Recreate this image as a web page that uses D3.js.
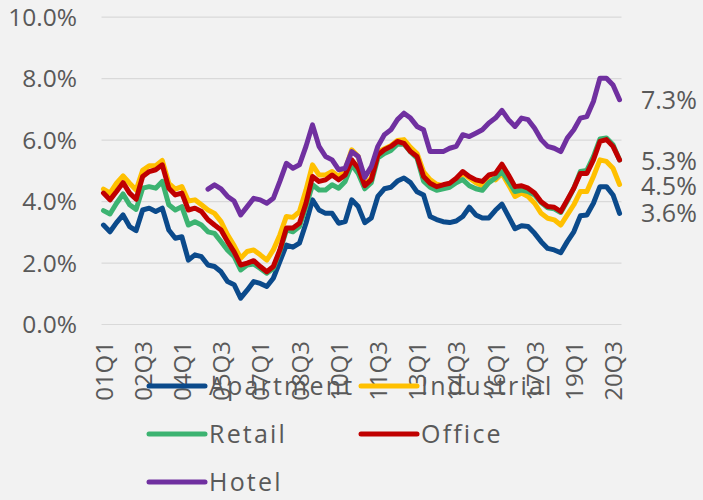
<!DOCTYPE html>
<html>
<head>
<meta charset="utf-8">
<script src="https://cdn.jsdelivr.net/npm/d3@7"></script>
<style>
  html, body { margin: 0; padding: 0; background: #f2f2f2; }
  svg { display: block; }
  text { font-family: "Open Sans", sans-serif; fill: #595959; }
</style>
</head>
<body>
<svg id="chart" width="703" height="500"></svg>
<script>
// ---------- DATA ----------
const categories = [
  "01Q1","01Q2","01Q3","01Q4","02Q1","02Q2","02Q3","02Q4","03Q1","03Q2","03Q3","03Q4",
  "04Q1","04Q2","04Q3","04Q4","05Q1","05Q2","05Q3","05Q4","06Q1","06Q2","06Q3","06Q4",
  "07Q1","07Q2","07Q3","07Q4","08Q1","08Q2","08Q3","08Q4","09Q1","09Q2","09Q3","09Q4",
  "10Q1","10Q2","10Q3","10Q4","11Q1","11Q2","11Q3","11Q4","12Q1","12Q2","12Q3","12Q4",
  "13Q1","13Q2","13Q3","13Q4","14Q1","14Q2","14Q3","14Q4","15Q1","15Q2","15Q3","15Q4",
  "16Q1","16Q2","16Q3","16Q4","17Q1","17Q2","17Q3","17Q4","18Q1","18Q2","18Q3","18Q4",
  "19Q1","19Q2","19Q3","19Q4","20Q1","20Q2","20Q3","20Q4"
];
const tickLabels = ["01Q1","02Q3","04Q1","05Q3","07Q1","08Q3","10Q1","11Q3","13Q1","14Q3","16Q1","17Q3","19Q1","20Q3"];
const yTicks = [0, 2, 4, 6, 8, 10];

const apartment = [
  3.22,3.0,3.3,3.55,3.17,3.04,3.71,3.77,3.66,3.77,3.06,2.79,
  2.84,2.08,2.25,2.19,1.92,1.87,1.7,1.38,1.28,0.84,1.1,1.38,
  1.32,1.22,1.49,2.03,2.57,2.5,2.63,3.28,4.04,3.71,3.6,3.6,
  3.28,3.33,4.04,3.82,3.3,3.45,4.15,4.4,4.45,4.65,4.75,4.6,
  4.3,4.2,3.5,3.4,3.33,3.3,3.35,3.5,3.8,3.55,3.45,3.45,
  3.7,3.9,3.5,3.1,3.2,3.17,2.95,2.68,2.46,2.41,2.32,2.68,
  3.0,3.52,3.55,3.93,4.47,4.47,4.2,3.6
];
const industrial = [
  4.39,4.26,4.58,4.82,4.58,4.36,5.0,5.15,5.15,5.32,4.58,4.39,
  4.47,4.0,4.04,3.88,3.71,3.6,3.33,2.9,2.55,2.14,2.36,2.41,
  2.25,2.08,2.41,2.9,3.5,3.47,3.66,4.36,5.18,4.85,4.85,4.96,
  4.8,5.02,5.67,5.45,4.55,4.75,5.6,5.7,5.8,5.97,6.0,5.75,
  5.55,4.95,4.7,4.55,4.5,4.55,4.7,4.9,4.75,4.6,4.5,4.75,
  4.69,4.9,4.53,4.15,4.26,4.15,3.93,3.6,3.44,3.39,3.22,3.55,
  3.88,4.31,4.31,4.8,5.34,5.29,5.07,4.54
];
const retail = [
  3.69,3.58,3.93,4.23,3.88,3.73,4.42,4.47,4.42,4.64,3.88,3.71,
  3.82,3.22,3.33,3.22,3.0,2.95,2.68,2.4,2.2,1.76,1.92,1.95,
  1.81,1.65,1.81,2.36,3.06,3.0,3.17,3.82,4.53,4.36,4.36,4.53,
  4.42,4.64,5.18,4.9,4.4,4.6,5.4,5.55,5.65,5.85,5.85,5.6,
  5.4,4.65,4.45,4.35,4.4,4.45,4.6,4.7,4.5,4.4,4.35,4.6,
  4.75,4.96,4.64,4.31,4.36,4.31,4.2,3.95,3.78,3.75,3.63,4.0,
  4.42,4.96,5.0,5.45,6.02,6.05,5.83,5.34
];
const office = [
  4.26,4.04,4.31,4.6,4.26,4.06,4.8,4.96,5.02,5.18,4.42,4.2,
  4.26,3.71,3.77,3.66,3.39,3.22,3.06,2.68,2.35,1.92,1.98,2.06,
  1.87,1.7,1.87,2.41,3.12,3.12,3.28,3.93,4.8,4.64,4.69,4.85,
  4.69,4.85,5.34,5.07,4.5,4.7,5.5,5.67,5.78,5.94,5.88,5.61,
  5.45,4.8,4.58,4.47,4.53,4.58,4.74,4.96,4.8,4.69,4.64,4.85,
  4.9,5.2,4.85,4.47,4.5,4.42,4.26,3.98,3.82,3.8,3.66,4.04,
  4.42,4.9,4.9,5.34,5.94,6.0,5.78,5.34
];
const hotel = [
  null,null,null,null,null,null,null,null,null,null,null,null,
  null,null,null,null,4.39,4.53,4.4,4.15,4.0,3.55,3.82,4.09,
  4.04,3.93,4.09,4.64,5.23,5.07,5.18,5.78,6.48,5.78,5.45,5.34,
  5.02,5.07,5.61,5.45,4.77,5.12,5.78,6.16,6.32,6.65,6.86,6.7,
  6.43,6.32,5.61,5.61,5.61,5.72,5.78,6.16,6.1,6.21,6.32,6.54,
  6.7,6.95,6.65,6.43,6.7,6.65,6.37,6.0,5.78,5.72,5.61,6.05,
  6.32,6.7,6.75,7.24,8.0,8.0,7.78,7.3
];

const seriesNames = ["Apartment", "Industrial", "Retail", "Office", "Hotel"];
const seriesColors = ["#0b4a8b", "#ffc000", "#3cb371", "#c00000", "#7030a0"];
const seriesValues = [apartment, industrial, retail, office, hotel];
const endLabels = [7.3, 5.3, 4.5, 3.6];

// ---------- CHART ----------
const svg = d3.select("#chart");
const plotLeft = 101.5, plotRight = 621.5, plotTop = 16.7, plotBottom = 324;

const x = d3.scalePoint().domain(categories).range([plotLeft, plotRight]).padding(0.3);
const y = d3.scaleLinear().domain([0, 10]).range([plotBottom, plotTop]);

// gridlines
svg.append("g")
  .attr("transform", `translate(${plotLeft},0)`)
  .call(d3.axisLeft(y).tickValues(yTicks).tickSize(-(plotRight - plotLeft)).tickFormat(""))
  .call(g => g.select(".domain").remove())
  .call(g => g.selectAll("line").attr("stroke", "#d9d9d9").attr("stroke-width", 1.2));

// y axis labels
svg.append("g")
  .attr("transform", `translate(77,0)`)
  .call(d3.axisLeft(y).tickValues(yTicks).tickSize(0).tickPadding(0).tickFormat(d => d.toFixed(1) + "%"))
  .call(g => g.select(".domain").remove())
  .call(g => g.selectAll("text").attr("dy", "0.36em").style("font-size", "24.5px").style("fill", "#595959"));

// x axis labels
svg.append("g")
  .attr("transform", `translate(0,${plotBottom})`)
  .call(d3.axisBottom(x).tickValues(tickLabels).tickSize(0))
  .call(g => g.select(".domain").remove())
  .call(g => g.selectAll("text")
    .attr("transform", "rotate(-90)")
    .attr("x", -17).attr("y", 0).attr("dy", "0.36em")
    .attr("text-anchor", "end")
    .style("font-size", "24px").style("fill", "#595959"));

// lines
const line = d3.line()
  .defined(d => d.v !== null)
  .x(d => x(d.c))
  .y(d => y(d.v));

seriesValues.forEach((vals, k) => {
  const pts = vals.map((v, i) => ({ c: categories[i], v: v }));
  svg.append("path")
    .datum(pts)
    .attr("fill", "none")
    .attr("stroke", seriesColors[k])
    .attr("stroke-width", 5)
    .attr("stroke-linejoin", "round")
    .attr("stroke-linecap", "round")
    .attr("d", line);
});

// end labels
svg.append("g").selectAll("text")
  .data(endLabels)
  .join("text")
  .attr("x", 641)
  .attr("y", d => y(d))
  .attr("dy", "0.36em")
  .style("font-size", "25px")
  .text(d => d.toFixed(1) + "%");

// legend
const legendX = [149, 361];
const legendY = [386, 434, 482];
const lg = svg.append("g");
seriesNames.forEach((name, k) => {
  const cx = legendX[k % 2], cy = legendY[Math.floor(k / 2)];
  lg.append("line")
    .attr("x1", cx).attr("x2", cx + 56)
    .attr("y1", cy).attr("y2", cy)
    .attr("stroke", seriesColors[k])
    .attr("stroke-width", 5)
    .attr("stroke-linecap", "round");
  lg.append("text")
    .attr("x", cx + 60).attr("y", cy)
    .attr("dy", "0.36em")
    .style("font-size", "25px")
    .style("letter-spacing", "2.2px")
    .text(name);
});
</script>
</body>
</html>
